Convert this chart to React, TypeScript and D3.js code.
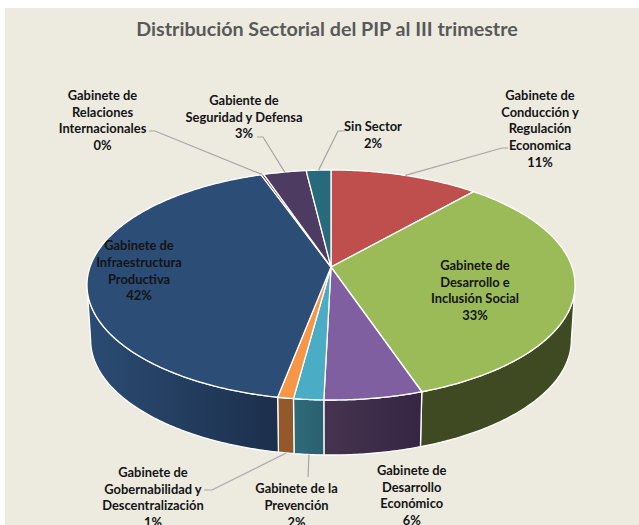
import React from 'react';
import * as d3 from 'd3';

const width = 639;
const height = 525;

const title = 'Distribución Sectorial del PIP al III trimestre';

// share of each slice, clockwise from 12 o'clock
const sectors = [
  'Conducción y Regulación',
  'Desarrollo e Inclusión Social',
  'Desarrollo Económico',
  'Prevención',
  'Gobernabilidad y Descentralización',
  'Infraestructura Productiva',
  'Relaciones Internacionales',
  'Seguridad y Defensa',
  'Sin Sector',
];
const shares = [11.5, 33.3, 5.6, 1.7, 0.9, 41.6, 0.2, 3.3, 1.9];

const topColors = ['#BE4F4C', '#9BBB59', '#7F5F9F', '#4BACC6', '#F79646', '#2C4D75', '#772C2A', '#4D3B62', '#276A7C'];
const wallColors = [
  ['#7a3230', '#7a3230'],
  ['#3F4A22', '#3F4A22'],
  ['#46334F', '#352644'],
  ['#306B7A', '#2A5F6E'],
  ['#94592A', '#94592A'],
  ['#2B4C73', '#1C2F4C'],
  ['#4a2020', '#4a2020'],
  ['#33273f', '#33273f'],
  ['#1a4854', '#1a4854'],
];

const labelLines = [
  ['Gabinete de', 'Conducción y', 'Regulación', 'Economica', '11%'],
  ['Gabinete de', 'Desarrollo e', 'Inclusión Social', '33%'],
  ['Gabinete de', 'Desarrollo', 'Económico', '6%'],
  ['Gabinete de la', 'Prevención', '2%'],
  ['Gabinete de', 'Gobernabilidad y', 'Descentralización', '1%'],
  ['Gabinete de', 'Infraestructura', 'Productiva', '42%'],
  ['Gabinete de', 'Relaciones', 'Internacionales', '0%'],
  ['Gabiente de', 'Seguridad y Defensa', '3%'],
  ['Sin Sector', '2%'],
];

// label centre x and first line y
const labelPos = [
  [540, 95.7],
  [475, 265.7],
  [411.7, 470.7],
  [296.5, 489],
  [153, 472.7],
  [139, 246],
  [102.5, 95.7],
  [244, 100.5],
  [373, 127],
];

// leader elbow: [label end x, elbow x, y, on the wall?]; null means no leader
const leaders: ([number, number, number, boolean] | null)[] = [
  [508, 502, 148, false],
  null,
  null,
  [308, 308, 477, true],
  [204, 212, 490, true],
  null,
  [149, 155, 131, false],
  [257, 263, 137, false],
  [345, 338, 131, false],
];

// perspective pie: the apex sits above the centre of the ellipse
const apexX = 331;
const apexY = 267;
const spreadX = 241;
const spreadY = 112.2;
const persp = 0.1565;
const depth = 55;
const lineGap = 16.6;

const project = (angle: number, drop = 0): [number, number] => {
  const u = Math.sin(angle);
  const v = Math.cos(angle);
  const d = 1 + persp * v;
  const narrow = drop ? 0.985 : 1;
  return [apexX + (spreadX * narrow * u) / d, apexY + drop - (spreadY * v) / d];
};

const arcAngles = (a0: number, a1: number) => {
  const n = Math.max(2, Math.ceil((a1 - a0) / 0.01));
  return d3.range(n + 1).map((i) => a0 + ((a1 - a0) * i) / n);
};

const wallFrom = Math.PI / 2 + 0.158;
const wallTo = (3 * Math.PI) / 2 - 0.158;

const App = () => {
  const slices = d3.pie<number>().sort(null).value((d) => d)(shares);
  const line = d3.line();

  return (
    <svg
      width={width}
      height={height}
      style={{ position: 'absolute', left: 0, top: 0, background: '#fff' }}
      fontFamily="Lato, sans-serif"
    >
      <defs>
        {wallColors.map((c, i) => (
          <linearGradient key={i} id={`wall${i}`} x1="0" x2="1" y1="0" y2="0">
            <stop offset="0" stopColor={c[0]} />
            <stop offset="1" stopColor={c[1]} />
          </linearGradient>
        ))}
      </defs>
      <rect x={5} y={8} width={width - 5} height={height - 8} fill="#EDEBE0" />

      <text x={327} y={36} textAnchor="middle" fontSize={19.7} fontWeight={700} fill="#595959">
        {title}
      </text>

      {/* side wall */}
      {slices.map((s, i) => {
        const a0 = Math.max(s.startAngle, wallFrom);
        const a1 = Math.min(s.endAngle, wallTo);
        if (a1 <= a0) return null;
        const angles = arcAngles(a0, a1);
        const pts = [
          ...angles.map((a) => project(a)),
          ...angles.slice().reverse().map((a) => project(a, depth)),
        ];
        return (
          <path
            key={sectors[i]}
            d={line(pts) + 'Z'}
            fill={`url(#wall${i})`}
            stroke="#fff"
            strokeWidth={1.3}
            strokeLinejoin="round"
          />
        );
      })}

      {/* top face */}
      {slices.map((s, i) => {
        const pts: [number, number][] = [[apexX, apexY], ...arcAngles(s.startAngle, s.endAngle).map((a) => project(a))];
        return (
          <path
            key={sectors[i]}
            d={line(pts) + 'Z'}
            fill={topColors[i]}
            stroke="#fff"
            strokeWidth={1.3}
            strokeLinejoin="round"
          />
        );
      })}

      {/* leaders */}
      {slices.map((s, i) => {
        const l = leaders[i];
        if (!l) return null;
        const mid = (s.startAngle + s.endAngle) / 2;
        const end = project(mid, l[3] ? depth : 0);
        return (
          <path
            key={sectors[i]}
            d={line([[l[0], l[2]], [l[1], l[2]], end]) as string}
            fill="none"
            stroke="#A6A6A6"
            strokeWidth={1.2}
          />
        );
      })}

      {/* labels */}
      {labelLines.map((lines, i) => (
        <text
          key={sectors[i]}
          textAnchor="middle"
          fontSize={12.9}
          fontWeight={700}
          fill="#141414"
        >
          {lines.map((t, j) => (
            <tspan key={j} x={labelPos[i][0]} y={labelPos[i][1] + j * lineGap + 4.4}>
              {t}
            </tspan>
          ))}
        </text>
      ))}
    </svg>
  );
};

export default App;
